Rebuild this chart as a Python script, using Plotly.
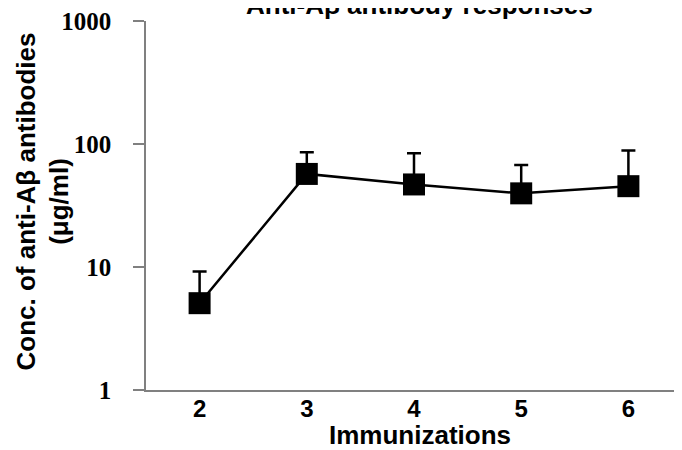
import plotly.graph_objects as go

immunizations = [2, 3, 4, 5, 6]
conc_mean = [5.08, 57.1, 46.9, 39.7, 45.4]
conc_upper = [9.2, 85.7, 84.0, 67.4, 88.6]
y_tick_vals = [1, 10, 100, 1000]
y_tick_text = ["1", "10", "100", "1000"]

err_plus = [u - m for u, m in zip(conc_upper, conc_mean)]
err_minus = [0 for _ in conc_mean]

fig = go.Figure()
fig.add_trace(go.Scatter(
    x=immunizations, y=conc_mean, mode="lines+markers",
    line=dict(color="black", width=2.5),
    marker=dict(symbol="square", size=22, color="black"),
    error_y=dict(type="data", symmetric=False, array=err_plus, arrayminus=err_minus,
                 color="black", thickness=2.5, width=7),
    showlegend=False,
))

# page has an 8px body margin; figure is sized so the plot area lands at x 146-682, y 16-390
fig.update_layout(
    width=674, height=442,
    margin=dict(l=138, r=0, t=8, b=60),
    paper_bgcolor="white", plot_bgcolor="white",
    xaxis=dict(
        range=[1.5, 6.5], tickvals=immunizations, ticktext=[str(v) for v in immunizations],
        showline=True, linecolor="#808080", linewidth=1.5, ticks="", showgrid=False, zeroline=False,
        ticklabelstandoff=-4, ticklabeloverflow="allow",
        tickfont=dict(family="Liberation Sans", size=24, color="black", weight="bold"),
    ),
    yaxis=dict(
        type="log", range=[0, 3], tickvals=y_tick_vals, ticktext=y_tick_text,
        showline=True, linecolor="#808080", linewidth=1.5, ticks="outside", ticklen=11,
        tickcolor="#808080", tickwidth=1.5, showgrid=False, zeroline=False,
        ticklabelstandoff=17, ticklabeloverflow="allow",
        tickfont=dict(family="Liberation Serif", size=25, color="black", weight="bold"),
    ),
    annotations=[
        dict(text="<b>Conc. of anti-Aβ antibodies<br>(μg/ml)</b>", textangle=-90,
             xref="paper", yref="paper", x=-0.192, y=0.511, xanchor="center", yanchor="middle",
             showarrow=False, font=dict(family="Liberation Sans", size=26, color="black")),
        dict(text="<b>Immunizations</b>",
             xref="paper", yref="paper", x=0.512, y=-0.1217, xanchor="center", yanchor="middle",
             showarrow=False, font=dict(family="Liberation Sans", size=26, color="black")),
        dict(text="<b>Anti-Aβ antibody responses</b>",
             xref="paper", yref="paper", x=0.511, y=1.044, xanchor="center", yanchor="middle",
             showarrow=False, font=dict(family="Liberation Sans", size=26, color="black")),
    ],
)

fig.write_html("out.html")
